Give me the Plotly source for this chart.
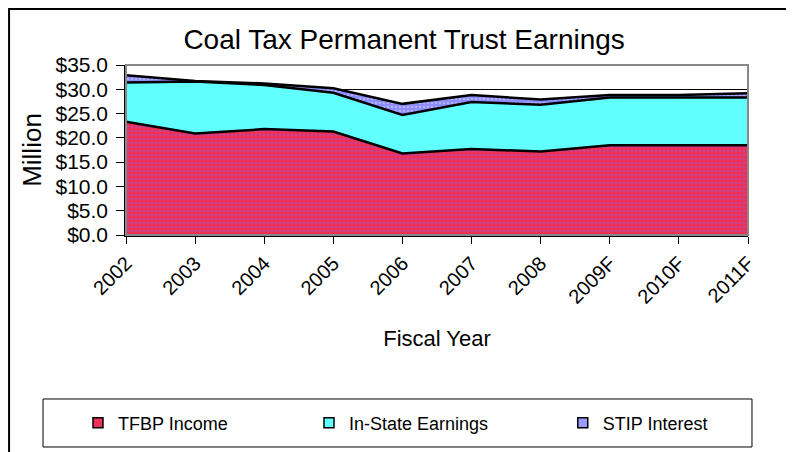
"""
Coal Tax Permanent Trust Earnings - stacked area chart of trust income by source.
"""
import plotly.graph_objects as go

years = ['2002', '2003', '2004', '2005', '2006', '2007', '2008', '2009F', '2010F', '2011F']
tfbp_income = [23.3, 20.9, 21.8, 21.3, 16.8, 17.7, 17.2, 18.5, 18.5, 18.5]
in_state = [8.1, 10.7, 9.1, 8.0, 7.9, 9.7, 9.6, 9.8, 9.8, 9.8]
stip_interest = [1.5, 0.1, 0.3, 0.9, 2.3, 1.4, 1.1, 0.5, 0.5, 0.9]

names = ['TFBP Income', 'In-State Earnings', 'STIP Interest']
fills = ['#EE3158', '#62FFFF', '#9A9AFF']
font = 'Liberation Sans, Arial, sans-serif'

fig = go.Figure()

series = [tfbp_income, in_state, stip_interest]
patterns = [
    dict(shape='.', bgcolor='#F22E50', fgcolor='#8C5AE8', size=4, solidity=0.35),
    None,
    dict(shape='.', bgcolor='#8C8CFF', fgcolor='#D8D8FF', size=4, solidity=0.3),
]
for name, vals, color, pat in zip(names, series, fills, patterns):
    kw = dict(fillpattern=pat) if pat else dict(fillcolor=color)
    fig.add_trace(go.Scatter(
        x=years, y=vals, name=name, stackgroup='one', mode='lines',
        line=dict(color='black', width=2.5), showlegend=False, **kw
    ))

# legend entries drawn as small squares, one legend each so they can be spaced like the original
legend_ids = ['legend', 'legend2', 'legend3']
legend_x = [-0.0772, 0.2942, 0.7022]
for name, color, lid in zip(names, fills, legend_ids):
    fig.add_trace(go.Scatter(
        x=[None], y=[None], name=name, mode='markers', legend=lid,
        marker=dict(symbol='square', size=10, color=color, line=dict(color='black', width=1.5))
    ))

legend_style = dict(orientation='h', xanchor='left', y=-1.106, yanchor='middle',
                    bgcolor='rgba(0,0,0,0)', borderwidth=0, font=dict(size=18))

# the page body adds an 8px margin, so the figure is a little smaller than the window
fig.update_layout(
    width=786, height=444,
    margin=dict(l=118, r=46, t=57, b=217, autoexpand=False),
    paper_bgcolor='white', plot_bgcolor='white',
    font=dict(family=font, color='black', size=18),
    title=dict(text='Coal Tax Permanent Trust Earnings', x=0.504, xanchor='center',
               y=0.93, yanchor='middle', font=dict(size=28), automargin=False),
    legend=dict(x=legend_x[0], **legend_style),
    legend2=dict(x=legend_x[1], **legend_style),
    legend3=dict(x=legend_x[2], **legend_style),
    shapes=[
        # plot area border (grey top / right)
        dict(type='rect', xref='paper', yref='paper', x0=0, x1=1, y0=0, y1=1,
             line=dict(color='#888888', width=2), layer='above'),
        # outer chart frame
        dict(type='rect', xref='paper', yref='paper', x0=-0.188, x1=1.09, y0=-1.35, y1=1.33,
             line=dict(color='black', width=2)),
        # legend box
        dict(type='rect', xref='paper', yref='paper', x0=-0.1334, x1=1.0064, y0=-1.247, y1=-0.9647,
             line=dict(color='black', width=1)),
    ],
)

fig.update_xaxes(
    type='category', range=[0, 9], showgrid=False, automargin=False,
    showline=True, linecolor='black', linewidth=1.5,
    ticks='outside', ticklen=7, tickcolor='black', tickangle=-45,
    tickfont=dict(size=20),
    title=dict(text='Fiscal Year', font=dict(size=22), standoff=24),
)
fig.update_yaxes(
    range=[0, 35], dtick=5, tickprefix='$', tickformat='.1f', automargin=False,
    showgrid=True, gridcolor='black', gridwidth=1, zeroline=False,
    showline=True, linecolor='black', linewidth=1.5,
    ticks='outside', ticklen=8, tickcolor='black', ticklabelstandoff=4,
    tickfont=dict(size=21),
    title=dict(text='Million', font=dict(size=26), standoff=6),
)

fig.write_html('out.html')
